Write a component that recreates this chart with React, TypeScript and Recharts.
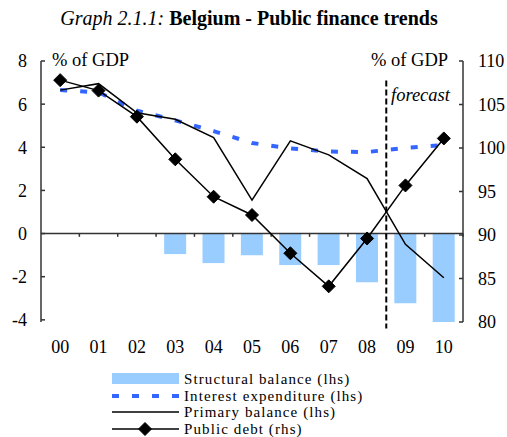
import { ComposedChart, Bar, Line, XAxis, YAxis, ReferenceLine } from 'recharts';

const years = ['00', '01', '02', '03', '04', '05', '06', '07', '08', '09', '10'];
const structuralBalance = [null, null, null, -0.95, -1.37, -1.0, -1.46, -1.46, -2.26, -3.23, -4.1];
const interestExpenditure = [6.65, 6.55, 5.7, 5.25, 4.75, 4.2, 3.95, 3.8, 3.78, 3.97, 4.1];
const primaryBalance = [6.65, 6.95, 5.6, 5.3, 4.45, 1.55, 4.3, 3.65, 2.55, -0.5, -2.05];
const publicDebt = [107.8, 106.6, 103.6, 98.7, 94.4, 92.3, 87.9, 84.1, 89.6, 95.7, 101.1];
const leftTicks = [-4, -2, 0, 2, 4, 6, 8];
const rightTicks = [80, 85, 90, 95, 100, 105, 110];

const FONT = '"Liberation Serif", "Times New Roman", serif';
const BAR_COLOR = '#99CCFF';
const DASH_COLOR = '#3366FF';

const data = years.map((year, i) => ({
  year,
  idx: i,
  structural: structuralBalance[i],
  interest: interestExpenditure[i],
  primary: primaryBalance[i],
  debt: publicDebt[i],
}));

// boundaries between categories, where the small ticks sit on the zero line
const boundaries = years.map((_, i) => i + 0.5);

function Diamond(props: { cx?: number; cy?: number }) {
  const { cx, cy } = props;
  if (cx == null || cy == null) return null;
  const r = 6.5;
  return (
    <polygon
      points={`${cx},${cy - r} ${cx + r},${cy} ${cx},${cy + r} ${cx - r},${cy}`}
      fill="#000"
      stroke="#000"
    />
  );
}

const tickStyle = { fontFamily: FONT, fontSize: 18, fill: '#000' };

function LegendRow({ kind, label }: { kind: string; label: string }) {
  return (
    <div style={{ display: 'flex', alignItems: 'center', height: 16.5 }}>
      <svg width={72} height={16} style={{ display: 'block' }}>
        {kind === 'bar' && <rect x={0} y={2} width={67} height={11} fill={BAR_COLOR} />}
        {kind === 'dash' && (
          <line x1={0} y1={8} x2={67} y2={8} stroke={DASH_COLOR} strokeWidth={4} strokeDasharray="7 13" />
        )}
        {kind === 'line' && <line x1={0} y1={8} x2={67} y2={8} stroke="#000" strokeWidth={1.5} />}
        {kind === 'marker' && (
          <g>
            <line x1={0} y1={8} x2={67} y2={8} stroke="#000" strokeWidth={1.5} />
            <Diamond cx={33} cy={8} />
          </g>
        )}
      </svg>
      <span
        style={{
          fontFamily: FONT,
          fontSize: 15,
          letterSpacing: 1.1,
          lineHeight: '16px',
          whiteSpace: 'nowrap',
        }}
      >
        {label}
      </span>
    </div>
  );
}

export default function App() {
  return (
    <div style={{ position: 'absolute', left: 0, top: 0, width: 507, height: 437, background: '#fff' }}>
      <div
        style={{
          position: 'absolute',
          left: 0,
          width: 498,
          top: 7,
          textAlign: 'center',
          fontFamily: FONT,
          fontSize: 20,
          whiteSpace: 'nowrap',
        }}
      >
        <i>Graph 2.1.1:</i> <b>Belgium - Public finance trends</b>
      </div>
      <ComposedChart
        width={507}
        height={437}
        data={data}
        margin={{ top: 61, right: 0, bottom: 75, left: 0 }}
        barCategoryGap="21%"
      >
        <XAxis
          dataKey="year"
          axisLine={false}
          tickLine={false}
          tick={tickStyle}
          tickMargin={12}
          height={40}
          interval={0}
        />
        <XAxis xAxisId="num" type="number" dataKey="idx" domain={[-0.5, 10.5]} hide allowDataOverflow />
        <YAxis
          yAxisId="left"
          domain={[-4, 8]}
          ticks={leftTicks}
          width={41}
          tick={tickStyle}
          tickSize={-4}
          tickMargin={18}
          axisLine={{ stroke: '#333', strokeWidth: 1.5 }}
          tickLine={{ stroke: '#333', strokeWidth: 1.5 }}
          interval={0}
        />
        <YAxis
          yAxisId="right"
          orientation="right"
          domain={[80, 110]}
          ticks={rightTicks}
          width={44}
          tick={tickStyle}
          tickSize={-4}
          tickMargin={19}
          axisLine={{ stroke: '#333', strokeWidth: 1.5 }}
          tickLine={{ stroke: '#333', strokeWidth: 1.5 }}
          interval={0}
        />
        <Bar yAxisId="left" dataKey="structural" fill={BAR_COLOR} isAnimationActive={false} />
        <ReferenceLine yAxisId="left" y={0} stroke="#333" strokeWidth={1.5} />
        {boundaries.map((b) => (
          <ReferenceLine
            key={b}
            yAxisId="left"
            xAxisId="num"
            segment={[
              { x: b, y: 0 },
              { x: b, y: -0.15 },
            ]}
            stroke="#333"
            strokeWidth={1.5}
            ifOverflow="visible"
          />
        ))}
        <Line
          yAxisId="left"
          dataKey="interest"
          stroke={DASH_COLOR}
          strokeWidth={4}
          strokeDasharray="7 13"
          dot={false}
          isAnimationActive={false}
        />
        <Line
          yAxisId="left"
          dataKey="primary"
          stroke="#000"
          strokeWidth={1.5}
          dot={false}
          isAnimationActive={false}
        />
        <Line
          yAxisId="right"
          dataKey="debt"
          stroke="#000"
          strokeWidth={1.5}
          dot={<Diamond />}
          isAnimationActive={false}
        />
        <ReferenceLine
          yAxisId="left"
          xAxisId="num"
          segment={[
            { x: 8.5, y: 7.1 },
            { x: 8.5, y: -4.4 },
          ]}
          stroke="#000"
          strokeWidth={2}
          strokeDasharray="6 3"
          ifOverflow="visible"
        />
      </ComposedChart>
      <div style={{ position: 'absolute', left: 52, top: 50, fontFamily: FONT, fontSize: 18.5, whiteSpace: 'nowrap' }}>
        % of GDP
      </div>
      <div style={{ position: 'absolute', left: 371, top: 50, fontFamily: FONT, fontSize: 18.5, whiteSpace: 'nowrap' }}>
        % of GDP
      </div>
      <div
        style={{
          position: 'absolute',
          left: 391,
          top: 85,
          fontFamily: FONT,
          fontSize: 18.5,
          fontStyle: 'italic',
          whiteSpace: 'nowrap',
        }}
      >
        forecast
      </div>
      <div style={{ position: 'absolute', left: 112, top: 371 }}>
        <LegendRow kind="bar" label="Structural balance (lhs)" />
        <LegendRow kind="dash" label="Interest expenditure (lhs)" />
        <LegendRow kind="line" label="Primary balance (lhs)" />
        <LegendRow kind="marker" label="Public debt (rhs)" />
      </div>
    </div>
  );
}
